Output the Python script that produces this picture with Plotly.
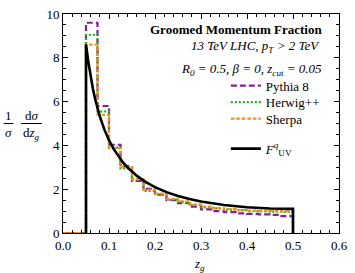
import plotly.graph_objects as go

# bin edges (z_g)
bin_edges = [0.0, 0.025, 0.05, 0.075, 0.1, 0.125, 0.15, 0.175, 0.2, 0.225, 0.25,
             0.275, 0.3, 0.325, 0.35, 0.375, 0.4, 0.425, 0.45, 0.475, 0.5]
pythia = [0, 0, 9.6, 5.8, 4.03, 3.05, 2.38, 2.02, 1.75, 1.50, 1.36, 1.20, 1.08, 1.00,
          0.95, 0.90, 0.87, 0.85, 0.83, 0.77]
herwig = [0, 0, 9.05, 5.55, 3.9, 2.95, 2.45, 1.92, 1.75, 1.52, 1.42, 1.28, 1.17, 1.12,
          1.07, 1.03, 1.00, 0.99, 0.98, 0.97]
sherpa = [0, 0, 8.6, 5.4, 3.88, 3.0, 2.45, 1.97, 1.80, 1.56, 1.45, 1.30, 1.20, 1.14,
          1.09, 1.05, 1.02, 1.01, 1.00, 0.99]

# analytic curve F_UV^q
curve_z = [0.05, 0.05, 0.055, 0.06, 0.065, 0.07, 0.075, 0.08, 0.09, 0.1, 0.11, 0.12, 0.13,
           0.14, 0.15, 0.16, 0.18, 0.2, 0.225, 0.25, 0.275, 0.3, 0.35, 0.4, 0.45, 0.5, 0.5]
curve_v = [0.0, 8.615, 7.817, 7.152, 6.589, 6.108, 5.690, 5.326, 4.719, 4.235, 3.840, 3.512,
           3.235, 2.999, 2.795, 2.618, 2.324, 2.093, 1.866, 1.689, 1.549, 1.437, 1.276,
           1.175, 1.119, 1.102, 0.0]

x_ticks = [0.0, 0.1, 0.2, 0.3, 0.4, 0.5, 0.6]
x_ticklabels = ["0.0", "0.1", "0.2", "0.3", "0.4", "0.5", "0.6"]
y_ticks = [0, 2, 4, 6, 8, 10]

SERIF = "Liberation Serif"


def step_xy(edges, vals):
    xs = list(edges) + [edges[-1]]
    ys = list(vals) + [vals[-1], 0]
    return xs, ys


fig = go.Figure()
series = [
    ("Pythia 8", pythia, "#8E1A9A", "6px,3px", "legend"),
    ("Herwig++", herwig, "#10C010", "2px,2px", "legend2"),
    ("Sherpa", sherpa, "#FF8A1A", "3.5px,2px", "legend3"),
]
for name, vals, col, dash, lg in series:
    xs, ys = step_xy(bin_edges, vals)
    fig.add_trace(go.Scatter(x=xs, y=ys, mode="lines", line_shape="hv", name=name,
                             legend=lg, line=dict(color=col, width=2.2, dash=dash)))

fig.add_trace(go.Scatter(x=curve_z, y=curve_v, mode="lines",
                         name="<i>F</i><sup><i>q</i></sup><sub>UV</sub>", legend="legend4",
                         line=dict(color="black", width=2.6)))

axis_common = dict(showgrid=False, zeroline=False, showline=True, linecolor="black",
                   linewidth=1, mirror="ticks", ticks="inside", ticklen=5,
                   tickcolor="black", tickfont=dict(family=SERIF, size=13, color="black"),
                   ticklabeloverflow="allow")

fig.update_xaxes(range=[0, 0.6], tickvals=x_ticks, ticktext=x_ticklabels,
                 minor=dict(ticks="inside", dtick=0.02, ticklen=3, tickcolor="black"),
                 **axis_common)
fig.update_yaxes(range=[0, 10], tickvals=y_ticks,
                 minor=dict(ticks="inside", dtick=0.5, ticklen=3, tickcolor="black"),
                 **axis_common)

ann = [
    dict(x=0.945, y=0.928, text="<b>Groomed Momentum Fraction</b>"),
    dict(x=0.94, y=0.852, text="<i>13 TeV LHC, p<sub>T</sub> &gt; 2 TeV</i>"),
    dict(x=0.945, y=0.748, text="<i>R<sub>0</sub> = 0.5, β = 0, z<sub>cut</sub> = 0.05</i>"),
]
for a in ann:
    fig.add_annotation(xref="paper", yref="paper", showarrow=False, yanchor="middle",
                       xanchor="right",
                       font=dict(family=SERIF, size=13, color="black"), **a)

# axis titles
fig.add_annotation(xref="paper", yref="paper", x=0.493, y=-0.142, text="<i>z<sub>g</sub></i>",
                   showarrow=False, font=dict(family=SERIF, size=13, color="black"),
                   yanchor="middle")
ylab_font = dict(family=SERIF, size=13, color="black")
fig.add_annotation(xref="paper", yref="paper", x=-0.198, y=0.537, text="1", showarrow=False,
                   font=ylab_font, xanchor="center", yanchor="middle")
fig.add_annotation(xref="paper", yref="paper", x=-0.198, y=0.457, text="<i>σ</i>",
                   showarrow=False, font=ylab_font, xanchor="center", yanchor="middle")
fig.add_annotation(xref="paper", yref="paper", x=-0.114, y=0.537, text="d<i>σ</i>",
                   showarrow=False, font=ylab_font, xanchor="center", yanchor="middle")
fig.add_annotation(xref="paper", yref="paper", x=-0.114, y=0.454, text="d<i>z<sub>g</sub></i>",
                   showarrow=False, font=ylab_font, xanchor="center", yanchor="middle")
fig.add_shape(type="line", xref="paper", yref="paper", x0=-0.215, x1=-0.18, y0=0.5,
              y1=0.5, line=dict(color="black", width=1))
fig.add_shape(type="line", xref="paper", yref="paper", x0=-0.152, x1=-0.076, y0=0.5,
              y1=0.5, line=dict(color="black", width=1))

leg_common = dict(x=0.59, xanchor="left", yanchor="middle", bgcolor="rgba(0,0,0,0)",
                  font=dict(family=SERIF, size=13, color="black"), itemwidth=30)

fig.update_layout(
    width=355, height=273,
    margin=dict(l=63, r=8, t=7, b=40),
    plot_bgcolor="white", paper_bgcolor="white",
    legend=dict(y=0.673, **leg_common),
    legend2=dict(y=0.597, **leg_common),
    legend3=dict(y=0.522, **leg_common),
    legend4=dict(y=0.385, **leg_common),
    showlegend=True,
)

fig.write_html("out.html", config={"displayModeBar": False},
               post_script="document.body.style.margin='0';document.body.style.padding='0';")
